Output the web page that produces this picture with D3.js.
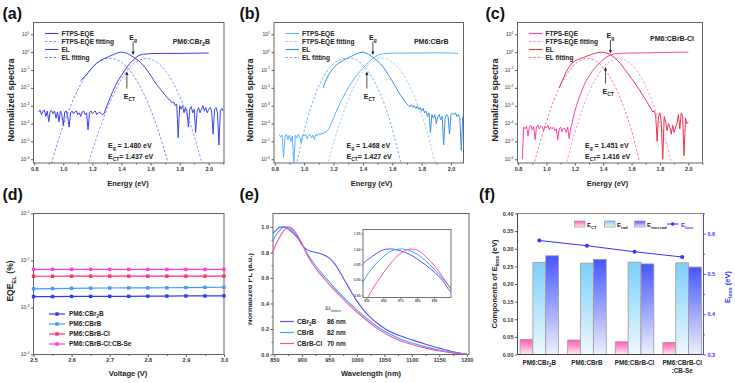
<!DOCTYPE html>
<html>
<head>
<meta charset="utf-8">
<script src="https://cdn.jsdelivr.net/npm/d3@7"></script>
<style>
  body { margin: 0; background: #fff; }
  svg { display: block; }
</style>
</head>
<body>
<div id="vis"></div>
<script>
// ---------- top row: FTPS-EQE / EL spectra (values = log10 of normalized signal) ----------
const energyTicks = [0.8, 1.0, 1.2, 1.4, 1.6, 1.8, 2.0];
const energyMinor = [0.9, 1.1, 1.3, 1.5, 1.7, 1.9, 2.1];
const spectraDecades = [1, 0, -1, -2, -3, -4, -5, -6];
const blendsTop = ["PM6:CBr_{2}B", "PM6:CBrB", "PM6:CBrB-Cl"];
const egVals = [1.480, 1.468, 1.451];
const ectVals = [1.437, 1.427, 1.416];

const ftpsA = [[0.83,-3.35],[0.84,-3.25],[0.85,-3.5],[0.86,-3.3],[0.87,-3.25],[0.88,-3.6],[0.89,-3.3],[0.90,-3.9],[0.91,-3.3],[0.92,-3.28],[0.93,-3.45],[0.94,-3.3],[0.95,-3.7],[0.96,-3.35],[0.97,-3.9],[0.98,-3.3],[0.99,-3.5],[1.00,-4.1],[1.01,-3.35],[1.02,-3.3],[1.03,-3.6],[1.04,-4.2],[1.05,-3.4],[1.06,-3.3],[1.07,-3.45],[1.08,-3.35],[1.09,-3.3],[1.10,-3.5],[1.11,-3.4],[1.12,-3.6],[1.13,-3.35],[1.14,-3.3],[1.15,-3.5],[1.16,-3.4],[1.17,-4.35],[1.18,-3.4],[1.19,-3.3],[1.20,-3.45],[1.21,-3.35],[1.22,-3.3],[1.23,-3.5],[1.24,-3.4],[1.25,-3.35],[1.26,-3.45],[1.27,-3.5],[1.28,-3.45],[1.30,-3.0],[1.32,-2.6],[1.34,-2.2],[1.36,-1.85],[1.38,-1.55],[1.40,-1.3],[1.42,-1.05],[1.44,-0.82],[1.46,-0.62],[1.48,-0.45],[1.50,-0.3],[1.52,-0.18],[1.55,-0.12],[1.60,-0.08],[1.70,-0.07],[1.80,-0.07],[1.90,-0.06],[2.00,-0.05]];
const elA = [[1.12,-1.6],[1.14,-1.42],[1.16,-1.25],[1.18,-1.05],[1.20,-0.85],[1.22,-0.68],[1.24,-0.55],[1.26,-0.45],[1.28,-0.37],[1.30,-0.3],[1.32,-0.22],[1.34,-0.15],[1.36,-0.08],[1.38,-0.02],[1.40,0.0],[1.42,-0.03],[1.44,-0.07],[1.46,-0.17],[1.48,-0.27],[1.50,-0.38],[1.52,-0.5],[1.54,-0.65],[1.56,-0.84],[1.58,-1.05],[1.60,-1.3],[1.62,-1.55],[1.64,-1.8],[1.66,-2.0],[1.68,-2.2],[1.70,-2.4],[1.72,-2.6],[1.74,-2.75],[1.75,-2.85],[1.76,-2.8],[1.77,-3.0],[1.78,-2.9],[1.79,-4.8],[1.80,-3.0],[1.81,-3.2],[1.82,-3.0],[1.83,-3.4],[1.84,-3.1],[1.85,-3.3],[1.86,-4.2],[1.87,-3.2],[1.88,-3.05],[1.89,-3.4],[1.90,-3.2],[1.91,-4.5],[1.92,-3.3],[1.93,-3.1],[1.94,-3.4],[1.95,-3.2],[1.96,-3.0],[1.97,-3.3],[1.98,-3.1],[1.99,-3.4],[2.00,-3.2],[2.01,-3.1],[2.02,-3.3],[2.03,-4.6],[2.04,-3.2],[2.05,-3.1],[2.06,-3.4],[2.07,-5.2],[2.08,-3.3],[2.09,-3.15],[2.10,-3.3]];
const ftpsFitA = [[1.16,-6.6],[1.20,-5.5],[1.25,-4.3],[1.30,-3.2],[1.35,-2.3],[1.40,-1.5],[1.45,-0.92],[1.50,-0.55],[1.55,-0.37],[1.57,-0.34],[1.60,-0.39],[1.65,-0.6],[1.70,-1.02],[1.75,-1.64],[1.80,-2.46],[1.85,-3.48],[1.90,-4.7],[1.95,-6.1],[1.97,-6.7]];
const elFitA = [[0.90,-6.7],[0.95,-5.35],[1.00,-4.09],[1.05,-3.01],[1.10,-2.11],[1.15,-1.40],[1.20,-0.87],[1.25,-0.52],[1.30,-0.35],[1.35,-0.37],[1.40,-0.57],[1.45,-0.96],[1.50,-1.53],[1.55,-2.28],[1.60,-3.21],[1.65,-4.33],[1.70,-5.63],[1.73,-6.5]];

const ftpsB = [[0.83,-4.6],[0.84,-4.75],[0.85,-4.65],[0.86,-5.9],[0.87,-4.7],[0.88,-4.6],[0.89,-4.9],[0.90,-4.65],[0.91,-5.0],[0.92,-4.7],[0.93,-6.3],[0.94,-4.65],[0.95,-4.8],[0.96,-4.6],[0.97,-4.75],[0.98,-5.1],[0.99,-4.65],[1.00,-4.7],[1.01,-4.6],[1.02,-4.85],[1.03,-4.65],[1.04,-4.6],[1.05,-4.8],[1.06,-4.65],[1.07,-4.9],[1.08,-4.6],[1.09,-4.7],[1.10,-4.55],[1.11,-4.65],[1.12,-4.5],[1.13,-4.6],[1.14,-4.45],[1.15,-4.5],[1.16,-4.4],[1.18,-4.1],[1.20,-3.7],[1.22,-3.3],[1.24,-2.95],[1.26,-2.6],[1.28,-2.3],[1.30,-2.0],[1.32,-1.75],[1.34,-1.5],[1.36,-1.28],[1.38,-1.08],[1.40,-0.9],[1.42,-0.72],[1.44,-0.56],[1.46,-0.4],[1.48,-0.28],[1.50,-0.18],[1.52,-0.12],[1.55,-0.08],[1.60,-0.06],[1.70,-0.05],[1.80,-0.05],[1.90,-0.04],[2.00,-0.05],[2.05,-0.07]];
const elB = [[1.13,-2.0],[1.14,-1.75],[1.16,-1.38],[1.18,-1.1],[1.20,-0.88],[1.22,-0.72],[1.24,-0.6],[1.26,-0.5],[1.28,-0.4],[1.30,-0.32],[1.32,-0.24],[1.34,-0.16],[1.36,-0.09],[1.38,-0.03],[1.40,0.0],[1.42,-0.05],[1.44,-0.13],[1.46,-0.24],[1.48,-0.36],[1.50,-0.5],[1.52,-0.66],[1.54,-0.86],[1.56,-1.1],[1.58,-1.36],[1.60,-1.62],[1.62,-1.9],[1.64,-2.2],[1.66,-2.45],[1.68,-2.7],[1.70,-2.9],[1.71,-3.0],[1.72,-3.05],[1.73,-2.95],[1.74,-3.1],[1.75,-3.0],[1.76,-3.15],[1.77,-3.05],[1.78,-3.2],[1.79,-3.1],[1.80,-3.3],[1.81,-3.15],[1.82,-3.4],[1.83,-3.3],[1.84,-3.6],[1.85,-3.4],[1.86,-4.5],[1.87,-3.5],[1.88,-3.7],[1.89,-3.5],[1.90,-4.0],[1.91,-3.6],[1.92,-3.5],[1.93,-3.8],[1.94,-3.6],[1.95,-5.2],[1.96,-3.7],[1.97,-3.5],[1.98,-3.6],[1.99,-4.6],[2.00,-3.5],[2.01,-3.4],[2.02,-3.5],[2.03,-3.4],[2.04,-3.6],[2.05,-3.5],[2.06,-3.7],[2.07,-5.5],[2.08,-3.6]];
const ftpsFitB = [[1.15,-6.6],[1.20,-5.1],[1.25,-3.8],[1.30,-2.67],[1.35,-1.77],[1.40,-1.08],[1.45,-0.62],[1.50,-0.38],[1.53,-0.34],[1.55,-0.36],[1.60,-0.56],[1.65,-0.97],[1.70,-1.61],[1.75,-2.47],[1.80,-3.55],[1.85,-4.85],[1.90,-6.5]];
const elFitB = [[0.94,-6.6],[1.00,-4.43],[1.05,-3.0],[1.10,-1.9],[1.15,-1.13],[1.20,-0.64],[1.25,-0.41],[1.30,-0.34],[1.35,-0.41],[1.40,-0.72],[1.45,-1.25],[1.50,-2.0],[1.55,-3.0],[1.60,-4.3],[1.67,-6.6]];

const ftpsC = [[0.83,-6.0],[0.84,-4.2],[0.85,-4.3],[0.86,-4.15],[0.87,-4.7],[0.88,-4.2],[0.89,-4.1],[0.90,-4.35],[0.91,-4.15],[0.92,-4.9],[0.93,-4.2],[0.94,-4.1],[0.95,-4.3],[0.96,-4.15],[0.97,-4.2],[0.98,-4.4],[0.99,-4.15],[1.00,-4.25],[1.01,-4.1],[1.02,-4.35],[1.03,-4.2],[1.04,-4.3],[1.05,-4.2],[1.06,-4.4],[1.07,-4.3],[1.08,-4.9],[1.09,-4.3],[1.10,-4.2],[1.11,-4.45],[1.12,-4.25],[1.13,-4.3],[1.14,-4.5],[1.15,-4.2],[1.16,-4.85],[1.17,-4.3],[1.18,-4.0],[1.20,-3.3],[1.22,-2.8],[1.24,-2.35],[1.26,-1.95],[1.28,-1.6],[1.30,-1.35],[1.32,-1.1],[1.34,-0.9],[1.36,-0.72],[1.38,-0.56],[1.40,-0.42],[1.42,-0.3],[1.44,-0.2],[1.46,-0.14],[1.48,-0.1],[1.50,-0.08],[1.55,-0.06],[1.60,-0.05],[1.70,-0.04],[1.80,-0.02],[1.90,-0.01],[2.00,0.0]];
const elC = [[1.09,-2.0],[1.10,-1.8],[1.12,-1.45],[1.14,-1.1],[1.16,-0.82],[1.18,-0.62],[1.20,-0.5],[1.22,-0.42],[1.24,-0.36],[1.26,-0.3],[1.28,-0.24],[1.30,-0.18],[1.32,-0.12],[1.34,-0.07],[1.36,-0.03],[1.38,-0.01],[1.40,0.0],[1.42,-0.04],[1.44,-0.1],[1.46,-0.19],[1.48,-0.31],[1.50,-0.46],[1.52,-0.63],[1.54,-0.84],[1.56,-1.05],[1.58,-1.26],[1.60,-1.48],[1.62,-1.7],[1.64,-1.93],[1.66,-2.17],[1.68,-2.42],[1.70,-2.68],[1.72,-2.95],[1.74,-3.2],[1.75,-3.35],[1.76,-3.3],[1.77,-3.5],[1.78,-5.0],[1.79,-3.6],[1.80,-3.4],[1.81,-4.0],[1.82,-6.0],[1.83,-3.6],[1.84,-3.9],[1.85,-4.4],[1.86,-4.0],[1.87,-4.2],[1.88,-4.6],[1.89,-4.1],[1.90,-4.5],[1.91,-4.2],[1.92,-4.0],[1.93,-3.5],[1.94,-4.3],[1.95,-3.4],[1.96,-3.6],[1.97,-5.8],[1.98,-3.7],[1.99,-4.0],[2.00,-3.9]];
const ftpsFitC = [[1.13,-6.6],[1.20,-4.5],[1.25,-3.27],[1.30,-2.26],[1.35,-1.46],[1.40,-0.88],[1.45,-0.51],[1.51,-0.36],[1.55,-0.43],[1.60,-0.71],[1.65,-1.2],[1.70,-1.91],[1.75,-2.84],[1.80,-4.0],[1.85,-5.2],[1.89,-6.6]];
const elFitC = [[0.90,-6.6],[0.95,-5.2],[1.00,-3.9],[1.05,-2.75],[1.10,-1.85],[1.15,-1.17],[1.20,-0.68],[1.25,-0.42],[1.29,-0.35],[1.35,-0.5],[1.40,-0.86],[1.45,-1.43],[1.50,-2.2],[1.55,-3.2],[1.60,-4.4],[1.67,-6.6]];

// ---------- (d) EQE_EL vs voltage ----------
const voltages = [2.50, 2.55, 2.60, 2.65, 2.70, 2.75, 2.80, 2.85, 2.90, 2.95, 3.00];
const eqeCBr2B = [0.00170, 0.00171, 0.00172, 0.00172, 0.00173, 0.00173, 0.00174, 0.00175, 0.00176, 0.00176, 0.00177];
const eqeCBrB = [0.00250, 0.00253, 0.00256, 0.00258, 0.00260, 0.00261, 0.00262, 0.00263, 0.00266, 0.00268, 0.00270];
const eqeCBrBCl = [0.00462, 0.00462, 0.00463, 0.00463, 0.00463, 0.00463, 0.00464, 0.00464, 0.00464, 0.00464, 0.00465];
const eqeCBrBClSe = [0.00650, 0.00650, 0.00649, 0.00649, 0.00648, 0.00648, 0.00647, 0.00647, 0.00646, 0.00646, 0.00645];
const eqeNames = ["PM6:CBr_{2}B", "PM6:CBrB", "PM6:CBrB-Cl", "PM6:CBrB-Cl:CB-Se"];
const voltTicks = [2.5, 2.6, 2.7, 2.8, 2.9, 3.0];
const voltMinor = [2.55, 2.65, 2.75, 2.85, 2.95];
const eqeDecades = [-1, -2, -3, -4];

// ---------- (e) normalized PL ----------
const plWavelengths = [845, 850, 855, 860, 865, 870, 875, 880, 885, 890, 895, 900, 910, 920, 930, 940, 950, 960, 970, 980, 990, 1000, 1020, 1040, 1060, 1080, 1100, 1125, 1150, 1175, 1200];
const plCBr2B = [0.94, 0.962, 0.982, 0.997, 1.0, 0.994, 0.984, 0.968, 0.948, 0.926, 0.898, 0.86, 0.82, 0.805, 0.795, 0.78, 0.755, 0.71, 0.64, 0.565, 0.49, 0.42, 0.31, 0.235, 0.18, 0.145, 0.115, 0.08, 0.05, 0.022, 0.003];
const plCBrB = [0.86, 0.912, 0.948, 0.975, 0.994, 1.0, 0.996, 0.983, 0.962, 0.935, 0.905, 0.87, 0.79, 0.725, 0.668, 0.617, 0.567, 0.52, 0.474, 0.43, 0.39, 0.35, 0.275, 0.21, 0.16, 0.12, 0.09, 0.06, 0.035, 0.015, 0.002];
const plCBrBCl = [0.77, 0.835, 0.882, 0.922, 0.958, 0.985, 0.999, 0.996, 0.976, 0.948, 0.91, 0.87, 0.775, 0.705, 0.648, 0.597, 0.547, 0.502, 0.457, 0.413, 0.372, 0.333, 0.26, 0.195, 0.145, 0.105, 0.078, 0.05, 0.028, 0.012, 0.001];
const plNames = ["CBr_{2}B", "CBrB", "CBrB-Cl"];
const stokesShift = [86, 82, 70];
const wlTicks = [850, 900, 950, 1000, 1050, 1100, 1150, 1200];
const wlMinor = [875, 925, 975, 1025, 1075, 1125, 1175];
const plTicks = [0.0, 0.2, 0.4, 0.6, 0.8, 1.0];
const plMinor = [0.1, 0.3, 0.5, 0.7, 0.9];
const insetXTicks = [850, 860, 870, 880, 890];
const insetYTicks = [0.85, 0.90, 0.95, 1.00, 1.05];

// ---------- (f) energy-loss components ----------
const lossBlends = ["PM6:CBr2B", "PM6:CBrB", "PM6:CBrB-Cl", "PM6:CBrB-Cl:CB-Se"];
const lossLabels = [["PM6:CBr_{2}B"], ["PM6:CBrB"], ["PM6:CBrB-Cl"], ["PM6:CBrB-Cl", ":CB-Se"]];
const ectLoss = [0.043, 0.041, 0.036, 0.034];
const radLoss = [0.261, 0.259, 0.262, 0.260];
const nonradLoss = [0.280, 0.270, 0.257, 0.248];
const totalLoss = [0.583, 0.570, 0.555, 0.542];
const lossTicks = [0, 0.05, 0.10, 0.15, 0.20, 0.25, 0.30, 0.35, 0.40];
const eLossTicks = [0.3, 0.4, 0.5, 0.6];
const eLossMinor = [0.35, 0.45, 0.55, 0.65];

// ================= drawing =================
const W = 735, H = 383;
const FONT = "Arial, 'Liberation Sans', Helvetica, sans-serif";
const svg = d3.select("#vis").append("svg")
  .attr("width", W).attr("height", H)
  .style("font-family", FONT);
svg.append("rect").attr("width", W).attr("height", H).attr("fill", "#fff");
const defs = svg.append("defs");

// text with _{sub} and ^{sup}
function rich(sel, str, size) {
  let cur = 0;
  str.split(/(_\{[^}]*\}|\^\{[^}]*\})/).filter(s => s).forEach(p => {
    let off = 0, t = p, fs = size;
    if (p.startsWith("_{")) { off = size * 0.3; t = p.slice(2, -1); fs = size * 0.7; }
    else if (p.startsWith("^{")) { off = -size * 0.42; t = p.slice(2, -1); fs = size * 0.7; }
    sel.append("tspan").attr("dy", off - cur).attr("font-size", fs).text(t);
    cur = off;
  });
  return sel;
}
function label(g, x, y, str, size, o = {}) {
  const host = o.clip ? g.append("g").attr("clip-path", `url(#${o.clip})`) : g;
  const t = host.append("text")
    .attr("x", x).attr("y", y)
    .attr("font-size", size)
    .attr("font-weight", o.weight || "bold")
    .attr("fill", o.fill || "#222")
    .attr("text-anchor", o.anchor || "start");
  if (o.rotate) t.attr("transform", `rotate(-90,${x},${y})`);
  return rich(t, str, size);
}
function styleAxis(a, fs, color) {
  a.attr("font-family", null).attr("font-size", null);
  a.select(".domain").remove();
  a.selectAll("line").attr("stroke", color || "#333").attr("stroke-width", 0.8);
  a.selectAll("text").attr("font-size", fs).attr("font-weight", "bold").attr("fill", color || "#333");
  return a;
}
function frame(g, x0, x1, y0, y1, color) {
  g.append("rect").attr("x", x0).attr("y", y0).attr("width", x1 - x0).attr("height", y1 - y0)
    .attr("fill", "none").attr("stroke", color || "#555").attr("stroke-width", 0.9);
}
function clipRect(id, x, y, w, h) {
  defs.append("clipPath").attr("id", id).append("rect")
    .attr("x", x).attr("y", y).attr("width", w).attr("height", h);
}
function arrow(g, x, yFrom, yTip) {
  const dir = yTip > yFrom ? 1 : -1;
  g.append("line").attr("x1", x).attr("x2", x).attr("y1", yFrom).attr("y2", yTip - dir * 3)
    .attr("stroke", "#222").attr("stroke-width", 0.8);
  g.append("path")
    .attr("d", `M${x - 1.6},${yTip - dir * 3.6}L${x + 1.6},${yTip - dir * 3.6}L${x},${yTip}Z`)
    .attr("fill", "#222");
}
function panelTag(x, y, s) {
  svg.append("text").attr("x", x).attr("y", y)
    .attr("font-size", 16).attr("font-weight", "bold").attr("fill", "#111").text(s);
}

// ---------- top row ----------
const TOP = { y0: 22.5, y1: 163 };
const topPanels = [
  { tag: "(a)", tagX: 2.5, x0: 33.5, x1: 224, dom: [0.795, 2.105],
    ftps: ftpsA, ftpsFit: ftpsFitA, el: elA, elFit: elFitA,
    col: { ftps: "#3c3cf4", ftpsFit: "#8a8aff", el: "#3848e0", elFit: "#7474f2" },
    ytX: 14, xtX: 128, boxX: 108, nameX: 210, nameY: 44, arr: [41.5, 55, 71.5, 88.5, 99] },
  { tag: "(b)", tagX: 239.5, x0: 274, x1: 463.5, dom: [0.795, 2.085],
    ftps: ftpsB, ftpsFit: ftpsFitB, el: elB, elFit: elFitB,
    col: { ftps: "#5cb2ff", ftpsFit: "#8cc8ff", el: "#3b8de8", elFit: "#6aaaf0" },
    ytX: 253, xtX: 371.5, boxX: 346.5, nameX: 448.5, nameY: 44, arr: [41.5, 55, 71.5, 88.5, 99] },
  { tag: "(c)", tagX: 485.5, x0: 517.5, x1: 702.5, dom: [0.796, 2.1],
    ftps: ftpsC, ftpsFit: ftpsFitC, el: elC, elFit: elFitC,
    col: { ftps: "#ff40a8", ftpsFit: "#ff8cc8", el: "#e8364a", elFit: "#f07080" },
    ytX: 498, xtX: 607.5, boxX: 585, nameX: 694, nameY: 41, arr: [40, 53.5, 67, 83.5, 94] }
];
const topLegend = [["FTPS-EQE", "ftps", false], ["FTPS-EQE fitting", "ftpsFit", true], ["EL", "el", false], ["EL fitting", "elFit", true]];

topPanels.forEach((p, i) => {
  const g = svg.append("g");
  const x = d3.scaleLinear().domain(p.dom).range([p.x0, p.x1]);
  const y = d3.scaleLog().domain([10 ** -6.21, 10 ** 1.66]).range([TOP.y1, TOP.y0]);
  clipRect("clipTop" + i, p.x0, TOP.y0, p.x1 - p.x0, TOP.y1 - TOP.y0);

  // axes
  styleAxis(g.append("g").attr("transform", `translate(0,${TOP.y1})`)
    .call(d3.axisBottom(x).tickValues(energyTicks).tickSize(2.5).tickSizeOuter(0).tickPadding(1.5).tickFormat(d3.format(".1f"))), 5.5);
  styleAxis(g.append("g").attr("transform", `translate(0,${TOP.y1})`)
    .call(d3.axisBottom(x).tickValues(energyMinor.filter(v => v <= p.dom[1])).tickSize(1.5).tickSizeOuter(0).tickFormat("")), 5.5);
  styleAxis(g.append("g").attr("transform", `translate(${p.x0},0)`)
    .call(d3.axisLeft(y).tickValues(spectraDecades.map(e => 10 ** e)).tickSize(2.5).tickSizeOuter(0).tickFormat("")), 5);
  spectraDecades.forEach(e => label(g, p.x0 - 4, y(10 ** e) + 1.6, `10^{${e}}`, 5, { anchor: "end", weight: "normal", fill: "#333" }));
  frame(g, p.x0, p.x1, TOP.y0, TOP.y1);

  // curves
  const line = d3.line().x(d => x(d[0])).y(d => y(10 ** d[1]));
  const smooth = d3.line().x(d => x(d[0])).y(d => y(10 ** d[1])).curve(d3.curveCatmullRom);
  const plot = g.append("g").attr("clip-path", `url(#clipTop${i})`);
  plot.append("path").attr("d", smooth(p.elFit)).attr("fill", "none").attr("stroke", p.col.elFit).attr("stroke-width", 0.9).attr("stroke-dasharray", "2.5,1.8");
  plot.append("path").attr("d", smooth(p.ftpsFit)).attr("fill", "none").attr("stroke", p.col.ftpsFit).attr("stroke-width", 0.9).attr("stroke-dasharray", "2.5,1.8");
  plot.append("path").attr("d", line(p.ftps)).attr("fill", "none").attr("stroke", p.col.ftps).attr("stroke-width", 1);
  plot.append("path").attr("d", line(p.el)).attr("fill", "none").attr("stroke", p.col.el).attr("stroke-width", 1);

  // legend
  topLegend.forEach((it, k) => {
    const ly = TOP.y0 + 11 + k * 8;
    g.append("line").attr("x1", p.x0 + 11.5).attr("x2", p.x0 + 25).attr("y1", ly).attr("y2", ly)
      .attr("stroke", p.col[it[1]]).attr("stroke-width", 1.1).attr("stroke-dasharray", it[2] ? "2.5,1.8" : null);
    label(g, p.x0 + 28, ly + 2.2, it[0], 6.5);
  });
  label(g, p.nameX, p.nameY, blendsTop[i], 7, { anchor: "end" });

  // Eg / ECT markers
  const xe = x(egVals[i]), xc = x(ectVals[i]);
  label(g, xe, p.arr[0] - 2, "E_{g}", 7, { anchor: "middle" });
  arrow(g, xe, p.arr[0], p.arr[1]);
  arrow(g, xc, p.arr[3], p.arr[2]);
  label(g, xc - 3, p.arr[4], "E_{CT}", 7);
  label(g, p.boxX, 148, `E_{g} = ${egVals[i].toFixed(3)} eV`, 7);
  label(g, p.boxX, 158.5, `E_{CT}= ${ectVals[i].toFixed(3)} eV`, 7);

  // titles
  label(g, p.xtX, 186, "Energy (eV)", 7.5, { anchor: "middle" });
  label(g, p.ytX, 100, "Normalized spectra", 9, { anchor: "middle", rotate: true });
  panelTag(p.tagX, 19, p.tag);
});

// ---------- (d) ----------
const BOT = { y0: 213.5, y1: 354.5 };
{
  const x0 = 33.5, x1 = 224;
  const g = svg.append("g");
  const x = d3.scaleLinear().domain([2.5, 3.0]).range([x0, x1]);
  const y = d3.scaleLog().domain([1e-4, 1e-1]).range([BOT.y1, BOT.y0]);
  styleAxis(g.append("g").attr("transform", `translate(0,${BOT.y1})`)
    .call(d3.axisBottom(x).tickValues(voltTicks).tickSize(2.5).tickSizeOuter(0).tickPadding(1.5).tickFormat(d3.format(".1f"))), 5.5);
  styleAxis(g.append("g").attr("transform", `translate(0,${BOT.y1})`)
    .call(d3.axisBottom(x).tickValues(voltMinor).tickSize(1.5).tickSizeOuter(0).tickFormat("")), 5.5);
  styleAxis(g.append("g").attr("transform", `translate(${x0},0)`)
    .call(d3.axisLeft(y).tickValues(eqeDecades.map(e => 10 ** e)).tickSize(2.5).tickSizeOuter(0).tickFormat("")), 5);
  eqeDecades.forEach(e => label(g, x0 - 4, y(10 ** e) + 1.6, `10^{${e}}`, 5, { anchor: "end", weight: "normal", fill: "#333" }));
  frame(g, x0, x1, BOT.y0, BOT.y1);

  const series = [eqeCBr2B, eqeCBrB, eqeCBrBCl, eqeCBrBClSe];
  const colors = ["#2e3cf0", "#3d9dff", "#ff2d6e", "#ff3de0"];
  const line = d3.line().x((d, k) => x(voltages[k])).y(d => y(d));
  series.forEach((s, k) => {
    g.append("path").attr("d", line(s)).attr("fill", "none").attr("stroke", colors[k]).attr("stroke-width", 1.2);
    g.selectAll(null).data(s).enter().append("rect")
      .attr("x", (d, j) => x(voltages[j]) - 1.7).attr("y", d => y(d) - 1.7)
      .attr("width", 3.4).attr("height", 3.4).attr("fill", colors[k]);
    const ly = 314 + k * 10;
    g.append("line").attr("x1", 49).attr("x2", 65).attr("y1", ly).attr("y2", ly).attr("stroke", colors[k]).attr("stroke-width", 1.2);
    g.append("rect").attr("x", 55.3).attr("y", ly - 1.7).attr("width", 3.4).attr("height", 3.4).attr("fill", colors[k]);
    label(g, 69, ly + 2.2, eqeNames[k], 6.5);
  });
  label(g, 128, 376, "Voltage (V)", 7.5, { anchor: "middle" });
  label(g, 13, 281, "EQE_{EL} (%)", 8.5, { anchor: "middle", rotate: true });
  panelTag(2.5, 200, "(d)");
}

// ---------- (e) ----------
{
  const x0 = 273, x1 = 469;
  const g = svg.append("g");
  const x = d3.scaleLinear().domain([847.5, 1204]).range([x0, x1]);
  const y = d3.scaleLinear().domain([0, 1.105]).range([BOT.y1, BOT.y0]);
  styleAxis(g.append("g").attr("transform", `translate(0,${BOT.y1})`)
    .call(d3.axisBottom(x).tickValues(wlTicks).tickSize(2.5).tickSizeOuter(0).tickPadding(1.5).tickFormat(d3.format("d"))), 5.5);
  styleAxis(g.append("g").attr("transform", `translate(0,${BOT.y1})`)
    .call(d3.axisBottom(x).tickValues(wlMinor).tickSize(1.5).tickSizeOuter(0).tickFormat("")), 5.5);
  styleAxis(g.append("g").attr("transform", `translate(${x0},0)`)
    .call(d3.axisLeft(y).tickValues(plTicks).tickSize(2.5).tickSizeOuter(0).tickPadding(1.5).tickFormat(d3.format(".1f"))), 5.5);
  styleAxis(g.append("g").attr("transform", `translate(${x0},0)`)
    .call(d3.axisLeft(y).tickValues(plMinor).tickSize(1.5).tickSizeOuter(0).tickFormat("")), 5.5);
  frame(g, x0, x1, BOT.y0, BOT.y1);
  clipRect("clipE", x0, BOT.y0, x1 - x0, BOT.y1 - BOT.y0);

  const series = [plCBr2B, plCBrB, plCBrBCl];
  const colors = ["#5a4ffa", "#3aa6ff", "#ff4fa6"];
  const plot = g.append("g").attr("clip-path", "url(#clipE)");
  const line = d3.line().x((d, k) => x(plWavelengths[k])).y(d => y(d)).curve(d3.curveCatmullRom);
  series.forEach((s, k) => {
    plot.append("path").attr("d", line(s)).attr("fill", "none").attr("stroke", colors[k]).attr("stroke-width", 1.1);
  });

  // legend
  label(g, 325, 310, "\u0394\u03bb_{stokes}", 5, { weight: "normal", fill: "#333" });
  series.forEach((s, k) => {
    const ly = 321.5 + k * 11;
    g.append("line").attr("x1", 280).attr("x2", 294).attr("y1", ly).attr("y2", ly).attr("stroke", colors[k]).attr("stroke-width", 1.2);
    label(g, 297, ly + 2.3, plNames[k], 6.5);
    label(g, 327, ly + 2.3, `${stokesShift[k]} nm`, 6.5);
  });

  // inset
  const ix0 = 363, ix1 = 451, iy0 = 229.5, iy1 = 297.5;
  const ix = d3.scaleLinear().domain([848, 900]).range([ix0, ix1]);
  const iy = d3.scaleLinear().domain([0.843, 1.063]).range([iy1, iy0]);
  g.append("rect").attr("x", ix0).attr("y", iy0).attr("width", ix1 - ix0).attr("height", iy1 - iy0).attr("fill", "#fff");
  clipRect("clipInset", ix0, iy0, ix1 - ix0, iy1 - iy0);
  const inset = g.append("g").attr("clip-path", "url(#clipInset)");
  const iline = d3.line().x((d, k) => ix(plWavelengths[k])).y(d => iy(d)).curve(d3.curveCatmullRom);
  series.forEach((s, k) => {
    inset.append("path").attr("d", iline(s)).attr("fill", "none").attr("stroke", colors[k]).attr("stroke-width", 1);
  });
  styleAxis(g.append("g").attr("transform", `translate(0,${iy1})`)
    .call(d3.axisBottom(ix).tickValues(insetXTicks).tickSize(1.5).tickSizeOuter(0).tickPadding(1)), 3.3, "#555");
  styleAxis(g.append("g").attr("transform", `translate(${ix0},0)`)
    .call(d3.axisLeft(iy).tickValues(insetYTicks).tickSize(1.5).tickSizeOuter(0).tickPadding(1).tickFormat(d3.format(".2f"))), 3.3, "#555");
  frame(g, ix0, ix1, iy0, iy1, "#666");

  label(g, 371, 376, "Wavelength (nm)", 7.5, { anchor: "middle" });
  // the y title is cut off at the panel edge in the original figure
  clipRect("clipETitle", 248.5, 200, 30, 180);
  label(g, 252, 289, "Normalized PL (a.u.)", 7.5, { anchor: "middle", rotate: true, clip: "clipETitle" });
  panelTag(239.5, 200, "(e)");
}

// ---------- (f) ----------
{
  const x0 = 517.5, x1 = 703.5;
  const g = svg.append("g");
  const x = d3.scaleBand().domain(lossBlends).range([515.5, 706]).paddingInner(0.19).paddingOuter(0.095);
  const sub = d3.scaleBand().domain(["ct", "rad", "non"]).range([0, x.bandwidth()]);
  const y = d3.scaleLinear().domain([0, 0.4]).range([BOT.y1, BOT.y0]);
  const yr = d3.scaleLinear().domain([0.3, 0.65]).range([BOT.y1, BOT.y0]);
  const blue = "#3434ff";

  function vgrad(id, top, bottom) {
    const lg = defs.append("linearGradient").attr("id", id).attr("x1", 0).attr("y1", 0).attr("x2", 0).attr("y2", 1);
    lg.append("stop").attr("offset", "0%").attr("stop-color", top);
    lg.append("stop").attr("offset", "100%").attr("stop-color", bottom);
  }
  vgrad("gCT", "#ff5cb5", "#ffe9f4");
  vgrad("gRad", "#7ccffb", "#eef9ff");
  vgrad("gNon", "#4656ff", "#eef0ff");

  const groups = [["ct", ectLoss, "url(#gCT)"], ["rad", radLoss, "url(#gRad)"], ["non", nonradLoss, "url(#gNon)"]];
  groups.forEach(([key, vals, fill]) => {
    g.selectAll(null).data(vals).enter().append("rect")
      .attr("x", (d, k) => x(lossBlends[k]) + sub(key))
      .attr("y", d => y(d))
      .attr("width", sub.bandwidth())
      .attr("height", d => BOT.y1 - y(d))
      .attr("fill", fill).attr("stroke", "#9c9c9c").attr("stroke-width", 0.8);
  });

  styleAxis(g.append("g").attr("transform", `translate(${x0},0)`)
    .call(d3.axisLeft(y).tickValues(lossTicks).tickSize(2.5).tickSizeOuter(0).tickPadding(1.5).tickFormat(d3.format(".2f"))), 5.5);
  styleAxis(g.append("g").attr("transform", `translate(${x1},0)`)
    .call(d3.axisRight(yr).tickValues(eLossTicks).tickSize(2.5).tickSizeOuter(0).tickPadding(1.5).tickFormat(d3.format(".1f"))), 5.5, blue);
  styleAxis(g.append("g").attr("transform", `translate(${x1},0)`)
    .call(d3.axisRight(yr).tickValues(eLossMinor).tickSize(1.5).tickSizeOuter(0).tickFormat("")), 5.5, blue);
  g.append("line").attr("x1", x0).attr("x2", x1).attr("y1", BOT.y0).attr("y2", BOT.y0).attr("stroke", "#777").attr("stroke-width", 0.9);
  g.append("line").attr("x1", x0).attr("x2", x1).attr("y1", BOT.y1).attr("y2", BOT.y1).attr("stroke", "#333").attr("stroke-width", 0.9);
  g.append("line").attr("x1", x0).attr("x2", x0).attr("y1", BOT.y0).attr("y2", BOT.y1).attr("stroke", "#333").attr("stroke-width", 0.9);
  g.append("line").attr("x1", x1).attr("x2", x1).attr("y1", BOT.y0).attr("y2", BOT.y1).attr("stroke", blue).attr("stroke-width", 0.9);

  // total loss line
  const cx = (d, k) => x(lossBlends[k]) + x.bandwidth() / 2;
  g.append("path").attr("d", d3.line().x(cx).y(d => yr(d))(totalLoss)).attr("fill", "none").attr("stroke", blue).attr("stroke-width", 1);
  g.selectAll(null).data(totalLoss).enter().append("circle")
    .attr("cx", cx).attr("cy", d => yr(d)).attr("r", 2).attr("fill", blue);

  // category labels
  lossLabels.forEach((lines, k) => {
    lines.forEach((s, j) => label(g, x(lossBlends[k]) + x.bandwidth() / 2, 365 + j * 8, s, 6.3, { anchor: "middle" }));
  });

  // legend
  const leg = [["E_{CT}", "url(#gCT)", 574.5], ["E_{rad}", "url(#gRad)", 604.5], ["E_{non-rad}", "url(#gNon)", 634.5]];
  leg.forEach(([s, fill, lx]) => {
    g.append("rect").attr("x", lx).attr("y", 221).attr("width", 10.5).attr("height", 6)
      .attr("fill", fill).attr("stroke", "#9c9c9c").attr("stroke-width", 0.7);
    label(g, lx + 12.5, 226.8, s, 6);
  });
  g.append("line").attr("x1", 667).attr("x2", 678.5).attr("y1", 224).attr("y2", 224).attr("stroke", blue).attr("stroke-width", 1);
  g.append("circle").attr("cx", 672.7).attr("cy", 224).attr("r", 1.8).attr("fill", blue);
  label(g, 681, 226.8, "E_{loss}", 6, { fill: blue });

  label(g, 729.5, 287, "E_{loss} (eV)", 7.5, { anchor: "middle", rotate: true, fill: blue });
  clipRect("clipFTitle", 491.5, 200, 30, 180);
  label(g, 496.5, 284, "Components of E_{loss} (eV)", 7.5, { anchor: "middle", rotate: true, clip: "clipFTitle" });
  panelTag(479, 200, "(f)");
}
</script>
</body>
</html>
